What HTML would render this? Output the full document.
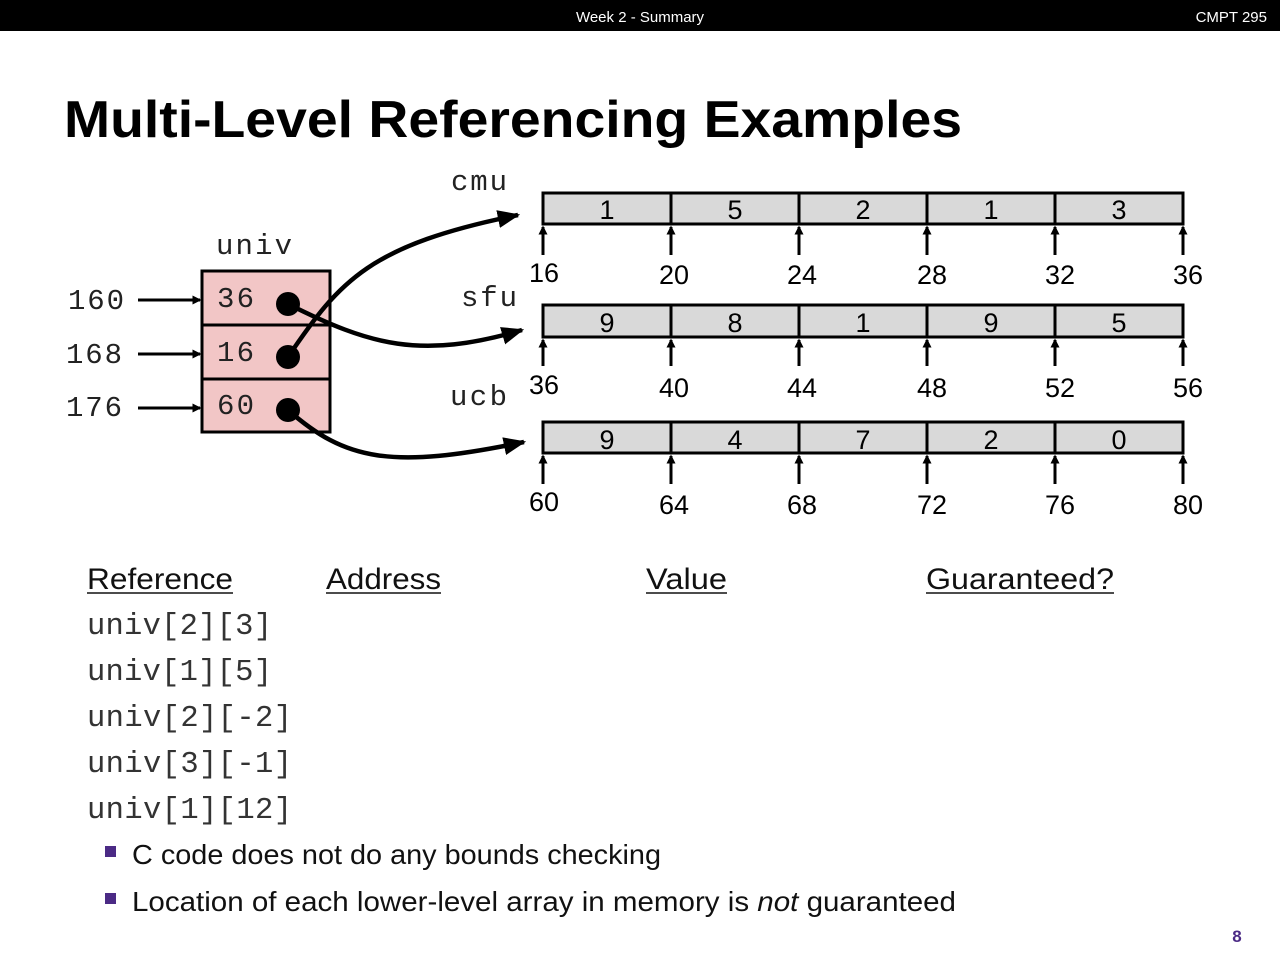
<!DOCTYPE html>
<html><head><meta charset="utf-8"><style>
html,body{margin:0;padding:0;background:#fff;width:1280px;height:960px;overflow:hidden}
svg{display:block}
</style></head><body>
<svg width="1280" height="960" viewBox="0 0 1280 960" xmlns="http://www.w3.org/2000/svg">
<defs>
<marker id="ah" markerWidth="5" markerHeight="4" refX="4.5" refY="2" orient="auto" markerUnits="strokeWidth"><path d="M0,0 L5,2 L0,4 z" fill="#000"/></marker>
<marker id="sa" markerWidth="3" markerHeight="3" refX="2.5" refY="1.5" orient="auto" markerUnits="strokeWidth"><path d="M0,0 L3,1.5 L0,3 z" fill="#000"/></marker>
</defs>
<rect x="0" y="0" width="1280" height="31" fill="#000"/>
<text x="640" y="22" fill="#fff" font-family="Liberation Sans,sans-serif" font-size="15" text-anchor="middle">Week 2 - Summary</text>
<text x="1267" y="22" fill="#fff" font-family="Liberation Sans,sans-serif" font-size="15" text-anchor="end">CMPT 295</text>
<text x="64" y="137" font-family="Liberation Sans,sans-serif" font-weight="bold" font-size="52" textLength="898" lengthAdjust="spacingAndGlyphs">Multi-Level Referencing Examples</text>

<rect x="202" y="271" width="128" height="161" fill="#f2c6c6" stroke="#000" stroke-width="3"/>
<line x1="202" y1="325" x2="330" y2="325" stroke="#000" stroke-width="3"/>
<line x1="202" y1="379" x2="330" y2="379" stroke="#000" stroke-width="3"/>

<g font-family="Liberation Mono,monospace" font-size="29" fill="#222">
<text x="451" y="190" textLength="56">cmu</text>
<text x="216" y="254" textLength="76">univ</text>
<text x="461" y="306" textLength="56">sfu</text>
<text x="450" y="405" textLength="57">ucb</text>
<text x="68" y="309" textLength="56">160</text>
<text x="66" y="363" textLength="56">168</text>
<text x="66" y="416" textLength="56">176</text>
<text x="217" y="307" textLength="37">36</text>
<text x="217" y="361" textLength="37">16</text>
<text x="217" y="414" textLength="37">60</text>
</g>
<g stroke="#000" stroke-width="3">
<line x1="138" y1="300" x2="200" y2="300" marker-end="url(#sa)"/>
<line x1="138" y1="354" x2="200" y2="354" marker-end="url(#sa)"/>
<line x1="138" y1="408" x2="200" y2="408" marker-end="url(#sa)"/>
</g>

<g font-family="Liberation Sans,sans-serif" font-size="27" fill="#000" text-anchor="middle">
<rect x="543" y="193" width="640" height="31" fill="#d9d9d9" stroke="#000" stroke-width="3"/>
<rect x="543" y="305" width="640" height="32" fill="#d9d9d9" stroke="#000" stroke-width="3"/>
<rect x="543" y="422" width="640" height="31" fill="#d9d9d9" stroke="#000" stroke-width="3"/>
<g stroke="#000" stroke-width="3">
<line x1="671" y1="193" x2="671" y2="224"/><line x1="799" y1="193" x2="799" y2="224"/><line x1="927" y1="193" x2="927" y2="224"/><line x1="1055" y1="193" x2="1055" y2="224"/>
<line x1="671" y1="305" x2="671" y2="337"/><line x1="799" y1="305" x2="799" y2="337"/><line x1="927" y1="305" x2="927" y2="337"/><line x1="1055" y1="305" x2="1055" y2="337"/>
<line x1="671" y1="422" x2="671" y2="453"/><line x1="799" y1="422" x2="799" y2="453"/><line x1="927" y1="422" x2="927" y2="453"/><line x1="1055" y1="422" x2="1055" y2="453"/>
</g>
<g stroke="#000" stroke-width="3">
<line x1="543" y1="255" x2="543" y2="227" marker-end="url(#sa)"/><line x1="671" y1="255" x2="671" y2="227" marker-end="url(#sa)"/><line x1="799" y1="255" x2="799" y2="227" marker-end="url(#sa)"/><line x1="927" y1="255" x2="927" y2="227" marker-end="url(#sa)"/><line x1="1055" y1="255" x2="1055" y2="227" marker-end="url(#sa)"/><line x1="1183" y1="255" x2="1183" y2="227" marker-end="url(#sa)"/>
<line x1="543" y1="366" x2="543" y2="340" marker-end="url(#sa)"/><line x1="671" y1="366" x2="671" y2="340" marker-end="url(#sa)"/><line x1="799" y1="366" x2="799" y2="340" marker-end="url(#sa)"/><line x1="927" y1="366" x2="927" y2="340" marker-end="url(#sa)"/><line x1="1055" y1="366" x2="1055" y2="340" marker-end="url(#sa)"/><line x1="1183" y1="366" x2="1183" y2="340" marker-end="url(#sa)"/>
<line x1="543" y1="484" x2="543" y2="456" marker-end="url(#sa)"/><line x1="671" y1="484" x2="671" y2="456" marker-end="url(#sa)"/><line x1="799" y1="484" x2="799" y2="456" marker-end="url(#sa)"/><line x1="927" y1="484" x2="927" y2="456" marker-end="url(#sa)"/><line x1="1055" y1="484" x2="1055" y2="456" marker-end="url(#sa)"/><line x1="1183" y1="484" x2="1183" y2="456" marker-end="url(#sa)"/>
</g>
<text x="607" y="219">1</text><text x="735" y="219">5</text><text x="863" y="219">2</text><text x="991" y="219">1</text><text x="1119" y="219">3</text>
<text x="607" y="332">9</text><text x="735" y="332">8</text><text x="863" y="332">1</text><text x="991" y="332">9</text><text x="1119" y="332">5</text>
<text x="607" y="449">9</text><text x="735" y="449">4</text><text x="863" y="449">7</text><text x="991" y="449">2</text><text x="1119" y="449">0</text>
<text x="544" y="282">16</text><text x="674" y="284">20</text><text x="802" y="284">24</text><text x="932" y="284">28</text><text x="1060" y="284">32</text><text x="1188" y="284">36</text>
<text x="544" y="394">36</text><text x="674" y="397">40</text><text x="802" y="397">44</text><text x="932" y="397">48</text><text x="1060" y="397">52</text><text x="1188" y="397">56</text>
<text x="544" y="511">60</text><text x="674" y="514">64</text><text x="802" y="514">68</text><text x="932" y="514">72</text><text x="1060" y="514">76</text><text x="1188" y="514">80</text>
</g>

<g fill="none" stroke="#000" stroke-width="4.5">
<path d="M288,357 C340,280 370,245 518,215" marker-end="url(#ah)"/>
<path d="M288,304 C370,345 420,360 522,330" marker-end="url(#ah)"/>
<path d="M288,410 C345,460 390,470 524,442" marker-end="url(#ah)"/>
</g>
<circle cx="288" cy="304" r="12" fill="#000"/>
<circle cx="288" cy="357" r="12" fill="#000"/>
<circle cx="288" cy="410" r="12" fill="#000"/>

<g font-family="Liberation Sans,sans-serif" font-size="30" fill="#111">
<text x="87" y="589" textLength="146" lengthAdjust="spacingAndGlyphs">Reference</text>
<text x="326" y="589" textLength="115" lengthAdjust="spacingAndGlyphs">Address</text>
<text x="646" y="589" textLength="81" lengthAdjust="spacingAndGlyphs">Value</text>
<text x="926" y="589" textLength="188" lengthAdjust="spacingAndGlyphs">Guaranteed?</text>
</g>
<g stroke="#111" stroke-width="1.5">
<line x1="87" y1="593" x2="233" y2="593"/><line x1="326" y1="593" x2="441" y2="593"/><line x1="646" y1="593" x2="727" y2="593"/><line x1="926" y1="593" x2="1114" y2="593"/>
</g>
<g font-family="Liberation Mono,monospace" font-size="30.5" fill="#333">
<text x="87" y="634" textLength="185">univ[2][3]</text>
<text x="87" y="680" textLength="185">univ[1][5]</text>
<text x="87" y="726" textLength="205">univ[2][-2]</text>
<text x="87" y="772" textLength="205">univ[3][-1]</text>
<text x="87" y="818" textLength="205">univ[1][12]</text>
</g>
<rect x="105" y="846" width="11" height="11" fill="#4b2a85"/>
<rect x="105" y="893" width="11" height="11" fill="#4b2a85"/>
<g font-family="Liberation Sans,sans-serif" font-size="28" fill="#111">
<text x="132" y="864" textLength="529" lengthAdjust="spacingAndGlyphs">C code does not do any bounds checking</text>
<text x="132" y="911" textLength="824" lengthAdjust="spacingAndGlyphs">Location of each lower-level array in memory is <tspan font-style="italic">not</tspan> guaranteed</text>
</g>
<text x="1237" y="942" font-family="Liberation Sans,sans-serif" font-size="17" font-weight="bold" fill="#4b2a85" text-anchor="middle">8</text>
</svg>
</body></html>
